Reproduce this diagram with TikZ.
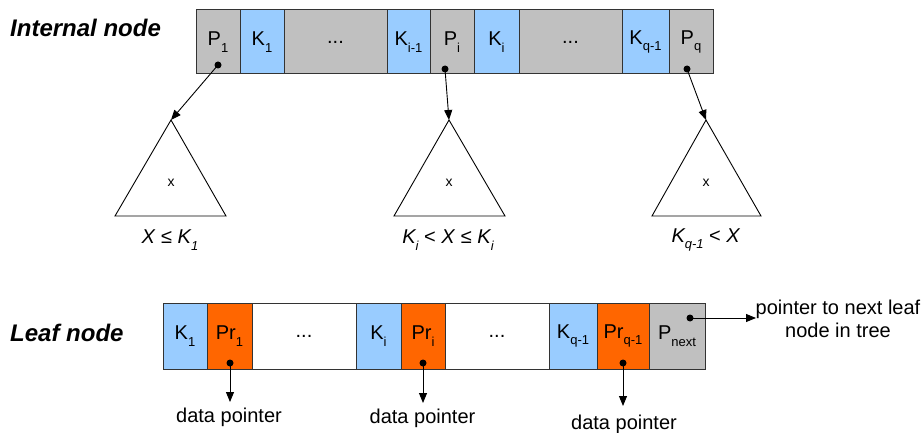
\documentclass[tikz,border=0pt]{standalone}
\usepackage{fontspec}
\setmainfont{Liberation Sans}
\usetikzlibrary{arrows.meta}

\definecolor{cellgray}{HTML}{C0C0C0}
\definecolor{keyblue}{HTML}{99CCFF}
\definecolor{ptrorange}{HTML}{FF6600}
\definecolor{edge}{HTML}{333333}

% lowered, smaller subscript in the running font
\newcommand\lowsub[1]{\raisebox{-0.33em}{\fontsize{13}{13}\selectfont #1}}

\tikzset{
  cell/.style={draw=edge, line width=1pt, inner sep=0pt, font=\fontsize{20}{24}\selectfont},
  icell/.style={cell, minimum height=64pt},
  lcell/.style={cell, minimum height=66pt},
  ptrdot/.style={circle, fill=black, inner sep=0pt, minimum size=7pt},
  arr/.style={draw=black, line width=0.9pt, -{Triangle[length=10pt,width=8pt]}},
  subtree/.style={draw=black, line width=0.9pt, line join=miter},
  lbl/.style={font=\fontsize{20}{24}\selectfont, inner sep=0pt},
  title/.style={font=\fontsize{24}{28}\bfseries\itshape\selectfont, inner sep=0pt, anchor=west},
}

\begin{document}
\begin{tikzpicture}[x=1pt, y=-1pt]
\useasboundingbox (0,0) rectangle (924,433);

% ---------- internal node ----------
\node[title] (ititle) at (10,28) {Internal node};

\node[icell, fill=cellgray, minimum width=44pt]  (ip1)  at (218,42)   {P\lowsub{1}};
\node[icell, fill=keyblue,  minimum width=44pt]  (ik1)  at (262,42)   {K\lowsub{1}};
\node[icell, fill=cellgray, minimum width=103pt] (idA)  at (335.5,42) {...};
\node[icell, fill=keyblue,  minimum width=43pt]  (ikim) at (408.5,42) {K\lowsub{i-1}};
\node[icell, fill=cellgray, minimum width=44pt]  (ipi)  at (452,42)   {P\lowsub{i}};
\node[icell, fill=keyblue,  minimum width=45pt]  (iki)  at (496.5,42) {K\lowsub{i}};
\node[icell, fill=cellgray, minimum width=103pt] (idB)  at (570.5,42) {...};
\node[icell, fill=keyblue,  minimum width=47pt]  (ikq)  at (645.5,42) {K\lowsub{q-1}};
\node[icell, fill=cellgray, minimum width=44pt]  (ipq)  at (691,42)   {P\lowsub{q}};

\node[ptrdot] (dp1) at (218,65) {};
\node[ptrdot] (dpi) at (445,69) {};
\node[ptrdot] (dpq) at (687,69) {};

% subtrees
\coordinate (t1) at (171,120);
\coordinate (t2) at (449,120);
\coordinate (t3) at (706,120);
\draw[subtree] (t1) -- (115,216) -- (226,216) -- cycle;
\draw[subtree] (t2) -- (394,216) -- (505,216) -- cycle;
\draw[subtree] (t3) -- (652,216) -- (761,216) -- cycle;

\node[font=\fontsize{14}{14}\selectfont] (x1) at (171,183) {x};
\node[font=\fontsize{14}{14}\selectfont] (x2) at (449,183) {x};
\node[font=\fontsize{14}{14}\selectfont] (x3) at (706,183) {x};

\draw[arr] (dp1.center) -- (t1);
\draw[arr] (dpi.center) -- (t2);
\draw[arr] (dpq.center) -- (t3);

\node[lbl] (r1) at (170,240) {\textit{X} ≤ \textit{K\lowsub{1}}};
\node[lbl] (r2) at (448,240) {\textit{K\lowsub{i}} < \textit{X} ≤ \textit{K\lowsub{i}}};
\node[lbl] (r3) at (706,240) {\textit{K\lowsub{q-1}} < \textit{X}};

% ---------- leaf node ----------
\node[title] (ltitle) at (10,333) {Leaf node};

\node[lcell, fill=keyblue,    minimum width=44pt]  (lk1) at (185,336)   {K\lowsub{1}};
\node[lcell, fill=ptrorange,  minimum width=45pt]  (lp1) at (229.5,336) {Pr\lowsub{1}};
\node[lcell, fill=white,      minimum width=104pt] (ldA) at (304,336)   {...};
\node[lcell, fill=keyblue,    minimum width=45pt]  (lki) at (378.5,336) {K\lowsub{i}};
\node[lcell, fill=ptrorange,  minimum width=44pt]  (lpi) at (423,336)   {Pr\lowsub{i}};
\node[lcell, fill=white,      minimum width=104pt] (ldB) at (497,336)   {...};
\node[lcell, fill=keyblue,    minimum width=48pt]  (lkq) at (573,336)   {K\lowsub{q-1}};
\node[lcell, fill=ptrorange,  minimum width=52pt]  (lpq) at (623,336)   {Pr\lowsub{q-1}};
\node[lcell, fill=cellgray,   minimum width=56pt]  (lpn) at (677,336)   {P\lowsub{next}};

\node[ptrdot] (dl1) at (230,363) {};
\node[ptrdot] (dli) at (423,363) {};
\node[ptrdot] (dlq) at (623,363) {};
\node[ptrdot] (dln) at (690,318) {};

\coordinate (e1) at (230,402);
\coordinate (e2) at (423,403);
\coordinate (e3) at (623,406);
\coordinate (en) at (756,318);

\draw[arr] (dl1.center) -- (e1);
\draw[arr] (dli.center) -- (e2);
\draw[arr] (dlq.center) -- (e3);
\draw[arr] (dln.center) -- (en);

\node[lbl] (dp1lbl) at (229,417) {data pointer};
\node[lbl] (dp2lbl) at (422.5,418) {data pointer};
\node[lbl] (dp3lbl) at (624,424) {data pointer};

\node[lbl, align=center] (nextlbl) at (838,319) {pointer to next leaf\\[-0.5pt]node in tree};
\end{tikzpicture}
\end{document}
